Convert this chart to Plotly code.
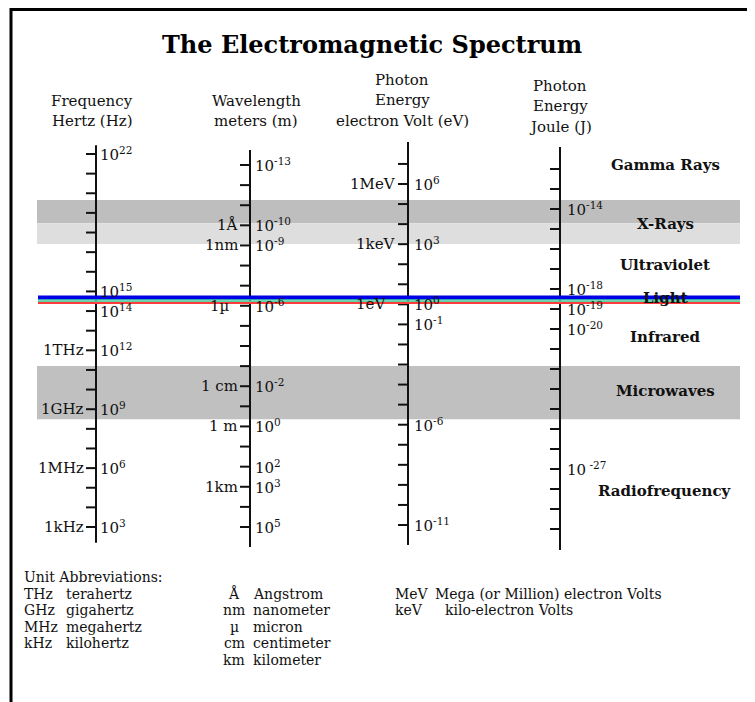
import plotly.graph_objects as go

W, H = 755, 702          # reference picture size
OFF = 8                  # page body margin of the browser
FW, FH = W - OFF, H - OFF  # figure size so the page fits the window

# ---------------- data ----------------
# Frequency column: log10(Hz), one tick per decade
freq_ticks = list(range(3, 23))
freq_right_vals = [22, 15, 14, 12, 9, 6, 3]
freq_left_vals = [12, 9, 6, 3]
freq_left_text = ["1THz", "1GHz", "1MHz", "1kHz"]

# Wavelength column: log10(m)
wave_ticks = list(range(-13, 6))
wave_right_vals = [-13, -10, -9, -6, -2, 0, 2, 3, 5]
wave_left_vals = [-10, -9, -6, -2, 0, 3]
wave_left_text = ["1Å", "1nm", "1µ", "1 cm", "1 m", "1km"]

# Photon energy column: log10(eV)
ev_ticks = list(range(-11, 8))
ev_right_vals = [6, 3, 0, -1, -6, -11]
ev_left_vals = [6, 3, 0]
ev_left_text = ["1MeV", "1keV", "1eV"]

# Photon energy column: log10(J)
joule_ticks = list(range(-30, -11))
joule_right_vals = [-14, -18, -19, -20, -27]

# Spectral bands, in log10(Hz)
xray_hard = (18.47, 19.66)
xray_soft = (17.42, 18.47)
microwave = (8.49, 11.20)
light_lo = [14.615, 14.54, 14.46, 14.36]
light_hi = [14.79, 14.615, 14.54, 14.46]
light_colors = ["#0000e6", "#2aa6b4", "#5cd49a", "#ff3b3b"]

region_names = ["Gamma Rays", "X-Rays", "Ultraviolet", "Light",
                "Infrared", "Microwaves", "Radiofrequency"]
region_logf = [21.45, 18.45, 16.35, 14.65, 12.7, 9.95, 4.85]

title_text = "The Electromagnetic Spectrum"
header_lines = [
    ["Frequency", "Hertz (Hz)"],
    ["Wavelength", "meters (m)"],
    ["Photon", "Energy", "electron Volt (eV)"],
    ["Photon", "Energy", "Joule (J)"],
]
abbr_title = "Unit Abbreviations:"
abbr_col1 = [("THz", "terahertz"), ("GHz", "gigahertz"),
             ("MHz", "megahertz"), ("kHz", "kilohertz")]
abbr_col2 = [("Å", "Angstrom"), ("nm", "nanometer"), ("µ", "micron"),
             ("cm", "centimeter"), ("km", "kilometer")]
abbr_col3 = [("MeV", "Mega (or Million) electron Volts"),
             ("keV", "kilo-electron Volts")]

# ---------------- layout geometry (reference pixel units) ----------------
FONT = "DejaVu Serif"
FS = 15
INK = "#111111"

# column: (axis x, calibration anchors (value, pixel), axis extent in values)
cols = {
    "y":  dict(x=96,  cal=((22, 154), (3, 527)),   ext=(22.45, 2.2)),
    "y2": dict(x=250, cal=((-13, 165), (5, 527)),  ext=(-13.75, 6.0)),
    "y3": dict(x=408, cal=((6, 184), (-11, 525)),  ext=(8.1, -12.0)),
    "y4": dict(x=560, cal=((-14, 209), (-30, 529)), ext=(-10.9, -31.05)),
}


def yrange(cal):
    (v1, p1), (v2, p2) = cal
    p1 -= OFF
    p2 -= OFF
    b = (p2 - p1) / (v2 - v1)
    a = p1 - b * v1
    return [(FH - a) / b, -a / b]


def py(p):
    return 1 - (p - OFF) / FH


fig = go.Figure()

ticks = {"y": freq_ticks, "y2": wave_ticks, "y3": ev_ticks, "y4": joule_ticks}
TL = 10
for ax, c in cols.items():
    x0 = c["x"]
    fig.add_trace(go.Scatter(x=[x0, x0], y=list(c["ext"]), yaxis=ax, mode="lines",
                             line=dict(color=INK, width=2), hoverinfo="skip",
                             showlegend=False))
    xs, ys = [], []
    for v in ticks[ax]:
        xs += [x0 - TL, x0, None]
        ys += [v, v, None]
    fig.add_trace(go.Scatter(x=xs, y=ys, yaxis=ax, mode="lines",
                             line=dict(color=INK, width=2), hoverinfo="skip",
                             showlegend=False))

ann = []


def txt(x, y, s, yref="paper", xanchor="left", size=FS, bold=False):
    ann.append(dict(x=x, y=y, xref="x", yref=yref, text=("<b>%s</b>" % s) if bold else s,
                    showarrow=False, xanchor=xanchor, yanchor="middle",
                    font=dict(family=FONT, size=size, color=INK)))


def sup(v, space=False):
    return "10<sup>%s%d</sup>" % (" " if space else "", v)


# right-hand tick labels
for v in freq_right_vals:
    txt(cols["y"]["x"] + 2, v, sup(v), yref="y")
for v in wave_right_vals:
    txt(cols["y2"]["x"] + 3, v, sup(v), yref="y2")
for v in ev_right_vals:
    txt(cols["y3"]["x"] + 4, v, sup(v), yref="y3")
for v in joule_right_vals:
    txt(cols["y4"]["x"] + 5, v, sup(v, space=(v == -27)), yref="y4")

# left-hand unit labels
for v, s in zip(freq_left_vals, freq_left_text):
    txt(cols["y"]["x"] - TL, v, s, yref="y", xanchor="right")
for v, s in zip(wave_left_vals, wave_left_text):
    txt(cols["y2"]["x"] - TL - (8 if s == "1µ" else 0), v, s, yref="y2", xanchor="right")
for v, s in zip(ev_left_vals, ev_left_text):
    txt(cols["y3"]["x"] - TL - (10 if s == "1eV" else 0), v, s, yref="y3", xanchor="right")

# region names
for name, v in zip(region_names, region_logf):
    txt(665, v, name, yref="y", xanchor="center", size=15, bold=True)

# title
ann.append(dict(x=372, y=py(44), xref="x", yref="paper", text="<b>%s</b>" % title_text,
                showarrow=False, xanchor="center", yanchor="middle",
                font=dict(family=FONT, size=24, color="#000")))

# column headers
hdr_pos = [(92, [101, 121]), (256, [101, 121]), (402, [80, 100, 121]), (560, [86, 106, 127])]
for (hx, hys), lines in zip(hdr_pos, header_lines):
    for hy, s in zip(hys, lines):
        txt(hx, py(hy), s, xanchor="center")

# abbreviations block
LFS = 14
row0, dy = 577, 16.5
txt(22, py(row0), abbr_title, size=LFS)
for i, (a, d) in enumerate(abbr_col1):
    txt(22, py(row0 + dy * (i + 1)), a, size=LFS)
    txt(64, py(row0 + dy * (i + 1)), d, size=LFS)
for i, (a, d) in enumerate(abbr_col2):
    txt(234, py(row0 + dy * (i + 1)), a, xanchor="center", size=LFS)
    txt(251, py(row0 + dy * (i + 1)), d, size=LFS)
for i, (a, d) in enumerate(abbr_col3):
    txt(393, py(row0 + dy * (i + 1)), a, size=LFS)
    txt(433 if i == 0 else 443, py(row0 + dy * (i + 1)), d, size=LFS)

# bands
shapes = []
BX0, BX1 = 37, 740
for (lo, hi), col in [(xray_hard, "#bebebe"), (xray_soft, "#dedede"), (microwave, "#c0c0c0")]:
    shapes.append(dict(type="rect", xref="x", yref="y", x0=BX0, x1=BX1, y0=lo, y1=hi,
                       fillcolor=col, line=dict(width=0), layer="below"))
for lo, hi, col in zip(light_lo, light_hi, light_colors):
    shapes.append(dict(type="rect", xref="x", yref="y", x0=38, x1=BX1, y0=lo, y1=hi,
                       fillcolor=col, line=dict(width=0), layer="above"))

# frame (top and left border)
shapes.append(dict(type="line", xref="x", yref="paper", x0=10, x1=W, y0=py(9.5), y1=py(9.5),
                   line=dict(color="#000", width=3)))
shapes.append(dict(type="line", xref="x", yref="paper", x0=11, x1=11, y0=py(8), y1=0,
                   line=dict(color="#000", width=3)))

layout_axes = {}
for ax, c in cols.items():
    key = "yaxis" if ax == "y" else "yaxis" + ax[1:]
    d = dict(range=yrange(c["cal"]), visible=False, fixedrange=True, domain=[0, 1])
    if ax != "y":
        d["overlaying"] = "y"
    layout_axes[key] = d

fig.update_layout(
    width=FW, height=FH, autosize=False,
    margin=dict(l=0, r=0, t=0, b=0, pad=0),
    paper_bgcolor="white", plot_bgcolor="white",
    xaxis=dict(range=[OFF, W], visible=False, fixedrange=True, domain=[0, 1]),
    annotations=ann, shapes=shapes, showlegend=False,
    **layout_axes,
)

fig.write_html("out.html")
